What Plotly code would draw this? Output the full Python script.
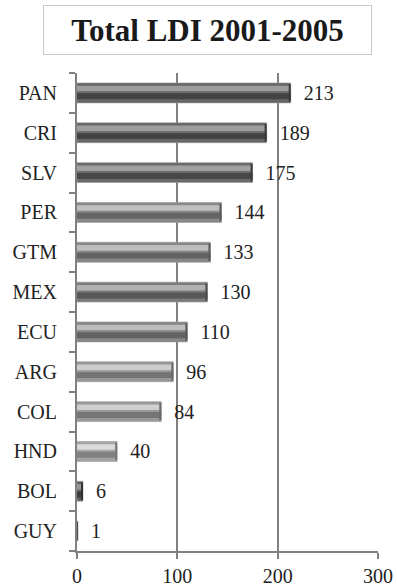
import plotly.graph_objects as go

countries = ["PAN", "CRI", "SLV", "PER", "GTM", "MEX", "ECU", "ARG", "COL", "HND", "BOL", "GUY"]
ldi_total = [213, 189, 175, 144, 133, 130, 110, 96, 84, 40, 6, 1]
x_ticks = [0, 100, 200, 300]
title_text = "Total LDI 2001-2005"

# styles (bottom-to-top order handled below)
base_grey = [0x66, 0x66, 0x6a, 0x88, 0x86, 0x7a, 0x86, 0x96, 0x98, 0xa4, 0x60, 0x78]

cats = countries[::-1]
vals = ldi_total[::-1]
greys = base_grey[::-1]


def hexg(v):
    v = max(0, min(255, int(v)))
    return "#%02x%02x%02x" % (v, v, v)


SERIF = "Liberation Serif, Times New Roman, serif"

fig = go.Figure()
# base cylinder body
fig.add_trace(go.Bar(
    y=cats, x=vals, orientation="h", width=0.5, offset=-0.25,
    marker=dict(color=[hexg(g) for g in greys], line=dict(color="#9a9a9a", width=0.6)),
    text=["\u00a0\u00a0" + str(v) for v in vals], textposition="outside",
    constraintext="none",
    textfont=dict(family=SERIF, size=20, color="#222"),
    cliponaxis=False, hoverinfo="skip", showlegend=False,
))
# light band (upper part)
fig.add_trace(go.Bar(
    y=cats, x=vals, orientation="h", width=0.14, offset=0.04,
    marker=dict(color=[hexg(g + 55) for g in greys], line=dict(width=0)),
    hoverinfo="skip", showlegend=False,
))
# dark band (lower part)
fig.add_trace(go.Bar(
    y=cats, x=vals, orientation="h", width=0.15, offset=-0.16,
    marker=dict(color=[hexg(g - 35) for g in greys], line=dict(width=0)),
    hoverinfo="skip", showlegend=False,
))
# dark end cap of each cylinder
cap = [min(2.0, v) for v in vals]
fig.add_trace(go.Bar(
    y=cats, x=cap, base=[v - c for v, c in zip(vals, cap)], orientation="h",
    width=0.44, offset=-0.22,
    marker=dict(color=[hexg(g - 45) for g in greys], line=dict(width=0)),
    hoverinfo="skip", showlegend=False,
))

fig.update_layout(
    width=397, height=586,
    margin=dict(l=77, r=19, t=73, b=35, autoexpand=False),
    barmode="overlay",
    plot_bgcolor="white", paper_bgcolor="white",
    font=dict(family=SERIF, color="#222"),
    xaxis=dict(
        range=[0, 300], tickvals=x_ticks, ticktext=[str(t) for t in x_ticks],
        showgrid=True, gridcolor="#808080", gridwidth=2,
        showline=True, linecolor="#808080", linewidth=2,
        ticks="outside", ticklen=6, tickcolor="#808080", tickwidth=2,
        tickfont=dict(family=SERIF, size=20, color="#222"),
        zeroline=False, fixedrange=True, automargin=False,
    ),
    yaxis=dict(
        type="category", categoryorder="array", categoryarray=cats,
        showline=True, linecolor="#808080", linewidth=2,
        ticks="outside", ticklen=6, tickcolor="#808080", tickwidth=2,
        tickson="boundaries", ticklabelstandoff=14,
        tickfont=dict(family=SERIF, size=20, color="#222"),
        showgrid=False, range=[-0.5, 11.5], automargin=False, fixedrange=True,
    ),
    annotations=[dict(
        text="<b>" + title_text + "</b>", xref="paper", yref="paper",
        x=0.4336, y=1.09, xanchor="center", yanchor="middle", showarrow=False,
        font=dict(family=SERIF, size=31, color="#1a1a1a"),
        bordercolor="#c8c8c8", borderwidth=1, width=325, height=46,
        bgcolor="white",
    )],
)

fig.write_html(
    "out.html",
    config={"displayModeBar": False},
    post_script="document.body.style.margin='0px';document.body.style.overflow='hidden';",
)
